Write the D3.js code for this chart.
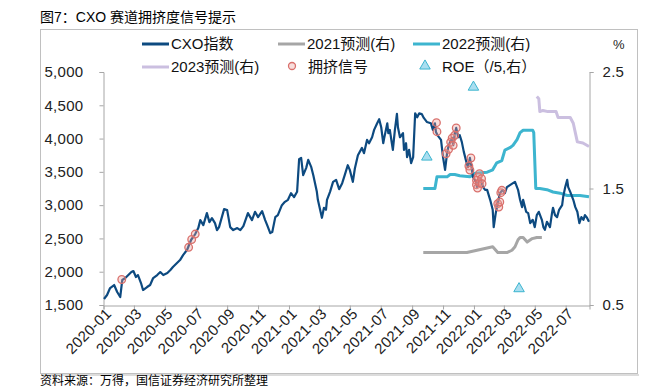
<!DOCTYPE html>
<html><head><meta charset="utf-8">
<script src="https://cdn.jsdelivr.net/npm/d3@7"></script>
<style>
html,body{margin:0;padding:0;background:#fff;}
svg{display:block;font-family:"Liberation Sans","Noto Sans CJK SC",sans-serif;}
</style></head>
<body><svg id="c" width="645" height="388"></svg>
<script>
// ---------- data ----------
const title = "图7：CXO 赛道拥挤度信号提示";
const source = "资料来源：万得，国信证券经济研究所整理";
const seriesNames = ["CXO指数","2021预测(右)","2022预测(右)","2023预测(右)","拥挤信号","ROE（/5,右）"];
const leftTicks = [1500,2000,2500,3000,3500,4000,4500,5000];
const rightTicks = [0.5,1.5,2.5];
const xDomain = ["2020-01-01","2022-08-17"];

const cxoSeries = [["2020-01-02",1590],["2020-01-08",1650],["2020-01-14",1755],["2020-01-22",1800],["2020-01-28",1695],["2020-02-03",1620],["2020-02-07",1875],["2020-02-13",1905],["2020-02-19",1950],["2020-02-25",1995],["2020-02-29",2010],["2020-03-05",1920],["2020-03-09",1950],["2020-03-15",1830],["2020-03-19",1725],["2020-03-27",1770],["2020-04-02",1800],["2020-04-08",1905],["2020-04-16",1950],["2020-04-22",1995],["2020-04-28",1950],["2020-05-06",1980],["2020-05-12",2025],["2020-05-17",2070],["2020-05-25",2130],["2020-05-31",2175],["2020-06-06",2250],["2020-06-14",2330],["2020-06-22",2480],["2020-06-30",2565],["2020-07-06",2655],["2020-07-10",2775],["2020-07-16",2700],["2020-07-23",2880],["2020-07-28",2745],["2020-08-02",2805],["2020-08-08",2730],["2020-08-12",2625],["2020-08-16",2670],["2020-08-26",2940],["2020-09-01",2925],["2020-09-07",2670],["2020-09-13",2625],["2020-09-21",2655],["2020-09-27",2625],["2020-10-03",2685],["2020-10-12",2880],["2020-10-20",2775],["2020-10-26",2900],["2020-11-01",2820],["2020-11-09",2910],["2020-11-15",2775],["2020-11-19",2700],["2020-11-25",2580],["2020-11-29",2595],["2020-12-05",2820],["2020-12-10",2850],["2020-12-18",3000],["2020-12-24",3050],["2020-12-30",3080],["2021-01-05",3180],["2021-01-11",3120],["2021-01-17",3200],["2021-01-21",3690],["2021-01-25",3710],["2021-01-29",3450],["2021-02-04",3560],["2021-02-08",3680],["2021-02-14",3570],["2021-02-18",3450],["2021-02-25",3200],["2021-02-27",3080],["2021-03-07",2810],["2021-03-11",2960],["2021-03-15",2930],["2021-03-17",3080],["2021-03-23",3200],["2021-03-29",3350],["2021-04-04",3380],["2021-04-10",3240],["2021-04-16",3330],["2021-04-21",3450],["2021-04-27",3600],["2021-05-01",3530],["2021-05-07",3350],["2021-05-11",3550],["2021-05-17",3750],["2021-05-25",3860],["2021-05-29",3780],["2021-06-04",3980],["2021-06-08",3930],["2021-06-14",4020],["2021-06-18",4130],["2021-06-24",4230],["2021-06-28",4290],["2021-07-02",4170],["2021-07-06",3930],["2021-07-08",4010],["2021-07-14",4230],["2021-07-16",4080],["2021-07-19",4130],["2021-07-23",3930],["2021-07-25",3830],["2021-07-29",4130],["2021-08-02",4370],["2021-08-04",4170],["2021-08-08",4020],["2021-08-14",4080],["2021-08-16",3830],["2021-08-20",3930],["2021-08-22",3720],["2021-08-26",3830],["2021-08-30",3630],["2021-09-03",3720],["2021-09-07",4380],["2021-09-11",4320],["2021-09-15",4380],["2021-09-20",4370],["2021-09-24",4310],["2021-09-30",4250],["2021-10-08",4230],["2021-10-12",4130],["2021-10-16",4230],["2021-10-18",4100],["2021-10-22",4040],["2021-10-28",3980],["2021-11-01",3720],["2021-11-05",3530],["2021-11-09",3780],["2021-11-11",3860],["2021-11-15",3950],["2021-11-19",4010],["2021-11-21",3900],["2021-11-24",4070],["2021-11-27",4160],["2021-12-01",4020],["2021-12-04",4050],["2021-12-08",3950],["2021-12-12",3800],["2021-12-16",3680],["2021-12-20",3570],["2021-12-24",3710],["2021-12-28",3530],["2021-12-30",3420],["2022-01-05",3360],["2022-01-07",3270],["2022-01-13",3410],["2022-01-19",3270],["2022-01-23",3230],["2022-01-27",3230],["2022-02-02",3080],["2022-02-07",2930],["2022-02-09",2670],["2022-02-13",2880],["2022-02-17",3020],["2022-02-21",3180],["2022-02-27",3230],["2022-03-03",3180],["2022-03-07",3270],["2022-03-13",3300],["2022-03-19",3330],["2022-03-23",3350],["2022-03-27",3270],["2022-03-29",3230],["2022-04-02",3080],["2022-04-06",2970],["2022-04-08",3080],["2022-04-14",2900],["2022-04-18",2880],["2022-04-22",2730],["2022-04-27",2780],["2022-05-01",2670],["2022-05-05",2850],["2022-05-09",2900],["2022-05-15",2780],["2022-05-18",2670],["2022-05-21",2630],["2022-05-25",2750],["2022-05-31",2670],["2022-06-04",2880],["2022-06-06",2960],["2022-06-10",2850],["2022-06-14",2820],["2022-06-18",2930],["2022-06-24",3000],["2022-06-26",3120],["2022-06-30",3270],["2022-07-04",3380],["2022-07-06",3270],["2022-07-10",3200],["2022-07-16",3080],["2022-07-20",2970],["2022-07-24",2900],["2022-07-28",2730],["2022-08-01",2820],["2022-08-05",2780],["2022-08-08",2850],["2022-08-12",2810],["2022-08-16",2750]];

const forecast2021 = [["2021-09-23",0.95],["2021-11-29",0.95],["2021-12-18",0.95],["2022-01-07",0.97],["2022-01-27",0.99],["2022-02-07",1.00],["2022-02-17",0.95],["2022-03-07",0.95],["2022-03-17",0.97],["2022-03-23",1.00],["2022-03-29",1.06],["2022-04-02",1.08],["2022-04-08",1.08],["2022-04-16",1.04],["2022-04-26",1.07],["2022-05-05",1.08],["2022-05-15",1.08]];

const forecast2022 = [["2021-09-23",1.50],["2021-10-16",1.50],["2021-10-20",1.60],["2021-11-09",1.60],["2021-11-15",1.62],["2021-11-24",1.62],["2021-12-04",1.61],["2021-12-24",1.60],["2022-01-03",1.63],["2022-01-27",1.64],["2022-02-07",1.66],["2022-02-15",1.72],["2022-02-25",1.74],["2022-03-03",1.83],["2022-03-13",1.85],["2022-03-19",1.87],["2022-03-27",1.92],["2022-04-02",1.98],["2022-04-08",2.00],["2022-04-27",2.00],["2022-04-29",1.98],["2022-05-03",1.50],["2022-05-11",1.50],["2022-05-25",1.49],["2022-06-06",1.47],["2022-06-20",1.46],["2022-07-04",1.44],["2022-07-29",1.44],["2022-08-16",1.43]];

const forecast2023 = [["2022-05-05",2.29],["2022-05-09",2.27],["2022-05-11",2.16],["2022-05-17",2.17],["2022-05-27",2.16],["2022-06-12",2.16],["2022-06-16",2.11],["2022-07-10",2.11],["2022-07-16",2.06],["2022-07-20",1.98],["2022-07-24",1.90],["2022-08-04",1.89],["2022-08-16",1.86]];

const signals = [["2020-02-06",1883],["2020-06-17",2367],["2020-06-23",2484],["2020-06-30",2566],["2021-10-19",4238],["2021-10-20",4103],["2021-11-07",3772],["2021-11-12",3839],["2021-11-16",3948],["2021-11-19",4008],["2021-11-21",3899],["2021-11-24",4049],["2021-11-27",4159],["2021-12-22",3588],["2021-12-24",3528],["2021-12-26",3708],["2022-01-06",3373],["2022-01-06",3307],["2022-01-08",3257],["2022-01-09",3423],["2022-01-12",3472],["2022-01-12",3337],["2022-01-16",3397],["2022-01-17",3322],["2022-02-17",3022],["2022-02-19",2972],["2022-02-21",3047],["2022-02-23",3187],["2022-02-25",3223]];

const roeDates = ["2021-09-30","2021-12-31","2022-03-31"];
const roeValues = [8.85, 11.85, 3.2];

// ---------- drawing ----------
const parse = d3.timeParse("%Y-%m-%d");
const svg = d3.select("#c");
const col = {cxo:"#0d4a80", f21:"#a6a6a6", f22:"#3db5cf", f23:"#cbbfe0", sig:"#d9706c", roeFill:"#a9def0", roeStroke:"#3db5cf", axis:"#a6a6a6"};

const x = d3.scaleTime().domain(xDomain.map(parse)).range([103.5, 589.5]);
const yL = d3.scaleLinear().domain([1500,5000]).range([305,72]);
const yR = d3.scaleLinear().domain([0.5,2.5]).range([305,72]);

// frame
svg.append("rect").attr("x",40.5).attr("y",29.5).attr("width",597).attr("height",344)
  .attr("fill","none").attr("stroke","#c0c0c0");
svg.append("line").attr("x1",41).attr("x2",639).attr("y1",375).attr("y2",375).attr("stroke","#dcdcdc").attr("stroke-width",2);

svg.append("text").attr("x",40).attr("y",22).attr("font-size",14).attr("fill","#000").text(title);
svg.append("text").attr("x",40).attr("y",385).attr("font-size",12).attr("fill","#000").text(source);

// axes
const fs = 15;
const gL = svg.append("g").attr("transform","translate(103.5,0)")
  .call(d3.axisLeft(yL).tickValues(leftTicks).tickFormat(d3.format(",")).tickSize(4).tickPadding(16));
const gR = svg.append("g").attr("transform","translate(589.5,0)")
  .call(d3.axisRight(yR).tickValues(rightTicks).tickFormat(d3.format(".1f")).tickSize(4).tickPadding(9));
const gX = svg.append("g").attr("transform","translate(0,305.5)")
  .call(d3.axisBottom(x).ticks(d3.timeMonth.every(2)).tickFormat(d3.timeFormat("%Y-%m")).tickSize(4));
[gL,gR,gX].forEach(g=>{
  g.selectAll("path").attr("stroke",col.axis);
  g.selectAll("line").attr("stroke",col.axis);
  g.selectAll("text").attr("font-size",fs).attr("fill","#222").attr("font-family",'"Liberation Sans",sans-serif').attr("letter-spacing","0.3px");
});
gX.selectAll(".tick text").attr("text-anchor","end").attr("dx","0.2em").attr("dy","0.3em")
  .attr("y",0).attr("x",0).attr("transform","translate(3,8) rotate(-45)");

svg.append("text").attr("x",613).attr("y",49).attr("font-size",13).attr("fill","#222").text("%");

// lines
const lineL = d3.line().x(d=>x(parse(d[0]))).y(d=>yL(d[1]));
const lineR = d3.line().x(d=>x(parse(d[0]))).y(d=>yR(d[1]));
svg.append("path").datum(forecast2021).attr("d",lineR).attr("fill","none").attr("stroke",col.f21).attr("stroke-width",3).attr("stroke-linejoin","round");
svg.append("path").datum(forecast2022).attr("d",lineR).attr("fill","none").attr("stroke",col.f22).attr("stroke-width",3).attr("stroke-linejoin","round");
svg.append("path").datum(forecast2023).attr("d",lineR).attr("fill","none").attr("stroke",col.f23).attr("stroke-width",3).attr("stroke-linejoin","round");
svg.append("path").datum(cxoSeries).attr("d",lineL).attr("fill","none").attr("stroke",col.cxo).attr("stroke-width",2.2).attr("stroke-linejoin","round");

// signals
svg.append("g").selectAll("circle").data(signals).join("circle")
  .attr("cx",d=>x(parse(d[0]))).attr("cy",d=>yL(d[1])).attr("r",3.8)
  .attr("fill","rgba(235,160,155,0.35)").attr("stroke",col.sig).attr("stroke-width",1.3);

// ROE triangles
const tri = d3.symbol().type(d3.symbolTriangle).size(48);
svg.append("g").selectAll("path").data(roeDates.map((d,i)=>[d,roeValues[i]/5])).join("path")
  .attr("d",tri).attr("transform",d=>`translate(${x(parse(d[0]))},${yR(d[1])})`)
  .attr("fill",col.roeFill).attr("stroke",col.roeStroke).attr("stroke-width",1);

// legend
const lg = svg.append("g").attr("font-size",fs).attr("fill","#111");
function legLine(x0,y0,c,label){
  lg.append("line").attr("x1",x0).attr("x2",x0+27).attr("y1",y0).attr("y2",y0).attr("stroke",c).attr("stroke-width",3);
  lg.append("text").attr("x",x0+29).attr("y",y0+5).text(label);
}
legLine(142,44,col.cxo,seriesNames[0]);
legLine(278,44,col.f21,seriesNames[1]);
legLine(413,44,col.f22,seriesNames[2]);
legLine(142,67,col.f23,seriesNames[3]);
lg.append("circle").attr("cx",292).attr("cy",66).attr("r",3.5).attr("fill","rgba(235,160,155,0.35)").attr("stroke",col.sig).attr("stroke-width",1.3);
lg.append("text").attr("x",308).attr("y",72).text(seriesNames[4]);
lg.append("path").attr("d",tri).attr("transform","translate(425,66)").attr("fill",col.roeFill).attr("stroke",col.roeStroke);
lg.append("text").attr("x",442).attr("y",72).text(seriesNames[5]);
</script></body></html>
